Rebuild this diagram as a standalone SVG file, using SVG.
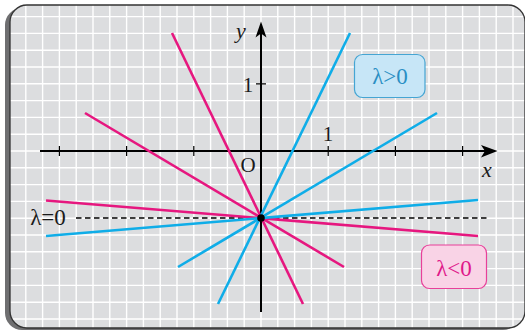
<svg xmlns="http://www.w3.org/2000/svg" width="525" height="330" viewBox="0 0 525 330">
<defs>
<style>
.grid{stroke:#ffffff;stroke-width:1.4;fill:none}
.axis{stroke:#000;stroke-width:2;fill:none}
.tick{stroke:#000;stroke-width:1.2}
.pink{stroke:#e6177f;stroke-width:2.6;stroke-linecap:butt;fill:none}
.blue{stroke:#0fade8;stroke-width:2.6;stroke-linecap:butt;fill:none}
.lbl{font-family:"Liberation Serif","Times New Roman",serif;fill:#1a1a1a}
.it{font-style:italic}
</style>
<clipPath id="panelClip"><rect x="10" y="5" width="515" height="323" rx="17"/></clipPath>
</defs>
<rect x="5" y="8" width="515" height="322" rx="17" fill="#6f6f71"/>
<rect x="10" y="5" width="515" height="323" rx="17" fill="#dcdddf"/>
<g clip-path="url(#panelClip)">
<path class="grid" d="M9 0V330M25.8 0V330M42.6 0V330M59.4 0V330M76.2 0V330M93 0V330M109.8 0V330M126.6 0V330M143.4 0V330M160.2 0V330M177 0V330M193.8 0V330M210.6 0V330M227.4 0V330M244.2 0V330M261 0V330M277.8 0V330M294.6 0V330M311.4 0V330M328.2 0V330M345 0V330M361.8 0V330M378.6 0V330M395.4 0V330M412.2 0V330M429 0V330M445.8 0V330M462.6 0V330M479.4 0V330M496.2 0V330M513 0V330"/>
<path class="grid" d="M0 16.6H525M0 33.4H525M0 50.2H525M0 67H525M0 83.8H525M0 100.6H525M0 117.4H525M0 134.2H525M0 151H525M0 167.8H525M0 184.6H525M0 201.4H525M0 218.2H525M0 235H525M0 251.8H525M0 268.6H525M0 285.4H525M0 302.2H525M0 319H525"/>
</g>
<rect x="10" y="5" width="515" height="323" rx="17" fill="none" stroke="#333" stroke-width="1.3"/>

<g id="axes">
<path class="axis" d="M40 151H486"/>
<path d="M497.5 151L481 145L485 151L481 157.5Z" fill="#000"/>
<path class="axis" d="M261 312V31"/>
<path d="M261 21.5L255.5 37.5L261 33.5L266.5 37.5Z" fill="#000"/>
<path class="tick" d="M59.4 146V156M126.6 146V156M193.8 146V156M328.2 146V156M395.4 146V156M462.6 146V156M256 83.8H266"/>
<text class="lbl it" x="236" y="38" font-size="22">y</text>
<text class="lbl it" x="482" y="177" font-size="22">x</text>
<text class="lbl" x="248" y="172" font-size="21" text-anchor="middle">O</text>
<text class="lbl" x="248" y="92" font-size="21" text-anchor="middle">1</text>
<text class="lbl" x="328" y="140.5" font-size="21" text-anchor="middle">1</text>
</g>

<g id="connectors">
<path d="M76 218H489" stroke="#000" stroke-width="1.3" stroke-dasharray="5.5 3.5"/>
<path class="pink" d="M172 33L303 304"/>
<path class="pink" d="M85 113L344 267"/>
<path class="pink" d="M46 200.5L478 236"/>
<path class="blue" d="M218 304L350 33"/>
<path class="blue" d="M178 267L437 113"/>
<path class="blue" d="M46 236L478 200"/>
</g>

<g id="center">
<circle cx="261" cy="218" r="3.8" fill="#000"/>
</g>

<g id="lambda-zero">
<text class="lbl" x="48" y="225" font-size="23" text-anchor="middle">λ=0</text>
</g>

<g id="lambda-pos">
<rect x="354.5" y="54.5" width="70.5" height="43" rx="8" fill="#c7e6f7" stroke="#45a5d3" stroke-width="1.2"/>
<text x="390" y="84" font-family="Liberation Serif, serif" font-size="23" fill="#2a8fc4" text-anchor="middle">λ&gt;0</text>
</g>

<g id="lambda-neg">
<rect x="421.5" y="245" width="65" height="43.5" rx="8" fill="#f9d3e6" stroke="#e8409a" stroke-width="1.2"/>
<text x="454" y="276" font-family="Liberation Serif, serif" font-size="23" fill="#e0178a" text-anchor="middle">λ&lt;0</text>
</g>
</svg>
